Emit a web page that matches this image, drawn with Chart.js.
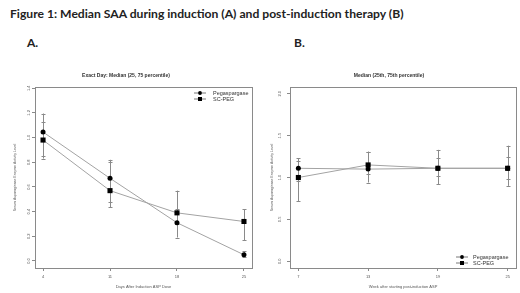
<!DOCTYPE html>
<html><head><meta charset="utf-8">
<script src="https://cdn.jsdelivr.net/npm/chart.js@4/dist/chart.umd.min.js"></script>
<style>
body{margin:0;width:520px;height:293px;background:#fff;overflow:hidden;position:relative;font-family:Lato,"Liberation Sans",sans-serif;}
#t{position:absolute;left:10px;top:6px;font-weight:bold;font-size:13px;color:#222;white-space:nowrap;line-height:16px}
.p{position:absolute;top:35px;font-weight:bold;font-size:12px;color:#222;line-height:15px}
canvas{position:absolute;display:block}
</style></head><body>
<div id="t">Figure 1: Median SAA during induction (A) and post-induction therapy (B)</div>
<div class="p" style="left:27px">A.</div><div class="p" style="left:294px">B.</div>
<canvas id="ca" width="262" height="227" style="left:0;top:66px"></canvas>
<canvas id="cb" width="258" height="227" style="left:262px;top:66px"></canvas>
<script>
// ---- data ----
const seriesNames = ['Pegaspargase', 'SC-PEG'];
// Panel A
const daysA = [4, 11, 18, 25];
const xLabelsA = ['4', '11', '18', '25'];
const pegA = [1.045, 0.67, 0.31, 0.05];
const pegLoA = [0.85, 0.48, 0.19, 0.03];
const pegHiA = [1.195, 0.82, 0.42, 0.08];
const scA = [0.98, 0.57, 0.39, 0.32];
const scLoA = [0.83, 0.435, 0.30, 0.17];
const scHiA = [1.127, 0.80, 0.57, 0.42];
const yTicksA = [0, 0.2, 0.4, 0.6, 0.8, 1.0, 1.2, 1.4];
const yLabelsA = ['0.0', '0.2', '0.4', '0.6', '0.8', '1.0', '1.2', '1.4'];
// Panel B
const weeksB = [7, 13, 19, 25];
const xLabelsB = ['7', '13', '19', '25'];
const pegB = [1.11, 1.10, 1.11, 1.11];
const pegLoB = [0.96, 0.94, 1.02, 0.98];
const pegHiB = [1.20, 1.30, 1.23, 1.25];
const scB = [1.0, 1.15, 1.11, 1.11];
const scLoB = [0.72, 1.04, 0.92, 0.90];
const scHiB = [1.23, 1.31, 1.33, 1.38];
const yTicksB = [0, 0.5, 1.0, 1.5, 2.0];
const yLabelsB = ['0.0', '0.5', '1.0', '1.5', '2.0'];

// fit main title width
(function(){const t=document.getElementById('t');let fs=13;t.style.fontSize=fs+'px';const w=t.getBoundingClientRect().width;fs=fs*394/w;t.style.fontSize=fs+'px';})();

const GREY='#8a8a8a', LINE='#a3a3a3', TXT='#555';

const boxPlugin={id:'box',beforeDatasetsDraw(c){const a=c.chartArea,x=c.ctx;x.save();x.strokeStyle=GREY;x.lineWidth=1;x.strokeRect(Math.round(a.left)+0.5,Math.round(a.top)+0.5,Math.round(a.right-a.left),Math.round(a.bottom-a.top));x.restore();}};
const errPlugin={id:'err',beforeDatasetsDraw(c){const x=c.ctx,sx=c.scales.x,sy=c.scales.y;x.save();x.strokeStyle=GREY;x.lineWidth=1;
 c.data.datasets.forEach(d=>{d.data.forEach((p,i)=>{const px=Math.round(sx.getPixelForValue(p.x))+0.5;const y1=sy.getPixelForValue(d.lo[i]),y2=sy.getPixelForValue(d.hi[i]);
 x.beginPath();x.moveTo(px,y1);x.lineTo(px,y2);x.moveTo(px-2,Math.round(y1)+0.5);x.lineTo(px+2,Math.round(y1)+0.5);x.moveTo(px-2,Math.round(y2)+0.5);x.lineTo(px+2,Math.round(y2)+0.5);x.stroke();});});x.restore();}};
const legPlugin={id:'leg',afterDraw(c){const o=c.options.plugins.leg;if(!o)return;const a=c.chartArea,x=c.ctx;x.save();
 c.data.datasets.forEach((d,i)=>{const ly=(o.top?a.top+o.dy:a.bottom-o.dy)+i*6;const mx=a.right-o.mx;
 x.strokeStyle='#555';x.lineWidth=0.8;x.beginPath();x.moveTo(mx-6,ly);x.lineTo(mx+6,ly);x.stroke();
 x.fillStyle='#000';if(d.pointStyle==='rect'){x.fillRect(mx-2,ly-2,4,4);}else{x.beginPath();x.arc(mx,ly,1.9,0,Math.PI*2);x.fill();}
 x.fillStyle='#333';x.font='5.5px "Liberation Sans"';x.textBaseline='middle';x.textAlign='left';x.fillText(d.label,mx+o.tx,ly);});x.restore();}};

function make(id,cfg){
 const mk=(vals,lo,hi,name,style,r)=>({label:name,data:cfg.xs.map((v,i)=>({x:v,y:vals[i]})),lo:lo,hi:hi,showLine:true,borderColor:LINE,borderWidth:1,
   pointStyle:style,pointRadius:r,pointBackgroundColor:'#000',pointBorderColor:'#000',pointBorderWidth:0});
 new Chart(document.getElementById(id),{type:'scatter',
  data:{datasets:[mk(cfg.peg,cfg.pegLo,cfg.pegHi,seriesNames[0],'circle',2.5),mk(cfg.sc,cfg.scLo,cfg.scHi,seriesNames[1],'rect',3.6)]},
  options:{responsive:false,animation:false,events:[],
   layout:{padding:{left:0,right:cfg.padR,top:0,bottom:0}},
   plugins:{legend:{display:false},tooltip:{enabled:false},leg:cfg.leg,
    title:{display:true,text:cfg.title,color:'#333',font:{size:5,weight:'bold',family:'"Liberation Sans"',lineHeight:1.2},padding:{top:7,bottom:8}}},
   scales:{
    x:{type:'linear',min:cfg.xmin,max:cfg.xmax,afterBuildTicks:s=>{s.ticks=cfg.xs.map(v=>({value:v}));},afterFit:s=>{s.height=25;},
      grid:{drawOnChartArea:false,tickLength:3,color:GREY},border:{display:false},
      ticks:{autoSkip:false,maxRotation:0,padding:3,color:TXT,font:{size:4,family:'"Liberation Sans"'},callback:(v,i)=>cfg.xl[i]},
      title:{display:true,text:cfg.xTitle,color:TXT,font:{size:4,family:'"Liberation Sans"',lineHeight:1.2},padding:{top:0,bottom:3.6}}},
    y:{type:'linear',min:cfg.ymin,max:cfg.ymax,afterBuildTicks:s=>{s.ticks=cfg.yt.map(v=>({value:v}));},afterFit:s=>{s.width=cfg.yw;},
      grid:{drawOnChartArea:false,tickLength:3,color:GREY},border:{display:false},
      ticks:{autoSkip:false,minRotation:90,maxRotation:90,crossAlign:'center',padding:cfg.ytp,color:TXT,font:{size:4,family:'"Liberation Sans"'},callback:(v,i)=>cfg.yl[i]},
      title:{display:true,text:'Serum Asparaginase Enzyme Activity Level',color:TXT,font:{size:3.5,family:'"Liberation Sans"',lineHeight:1.2},padding:{top:cfg.ytt,bottom:0}}}
   }},
  plugins:[boxPlugin,errPlugin,legPlugin]});
}

make('ca',{xs:daysA,xl:xLabelsA,peg:pegA,pegLo:pegLoA,pegHi:pegHiA,sc:scA,scLo:scLoA,scHi:scHiA,yt:yTicksA,yl:yLabelsA,
 xmin:3.16,xmax:25.84,ymin:-0.057,ymax:1.41,padR:10,yw:35,ytp:0.2,ytt:12.9,
 title:'Exact Day: Median (25, 75 percentile)',xTitle:'Days After Induction ASP Dose',
 leg:{top:true,dy:6,mx:52,tx:13}});
make('cb',{xs:weeksB,xl:xLabelsB,peg:pegB,pegLo:pegLoB,pegHi:pegHiB,sc:scB,scLo:scLoB,scHi:scHiB,yt:yTicksB,yl:yLabelsB,
 xmin:6.28,xmax:25.72,ymin:-0.08,ymax:2.08,padR:4,yw:28,ytp:4.2,ytt:7.6,
 title:'Median (25th, 75th percentile)',xTitle:'Week after starting post-induction ASP',
 leg:{top:false,dy:11,mx:54,tx:11}});
</script>
</body></html>
